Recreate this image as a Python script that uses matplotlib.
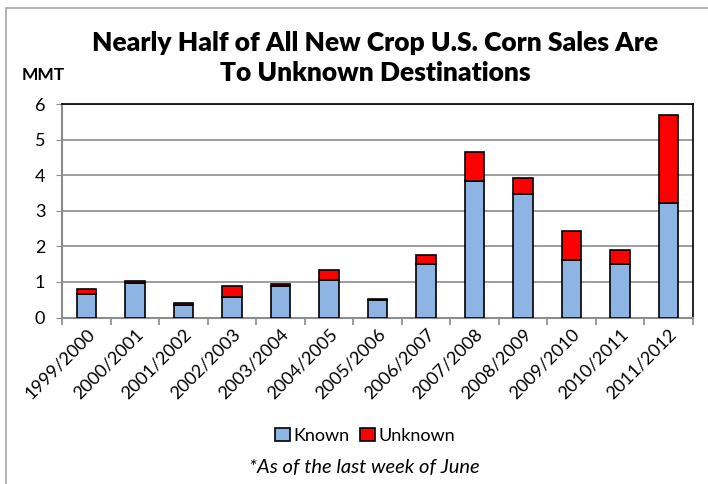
import matplotlib.pyplot as plt
import numpy as np
from matplotlib.patches import Rectangle

plt.rcParams['font.family'] = ['Lato', 'DejaVu Sans']

years = ['1999/2000', '2000/2001', '2001/2002', '2002/2003', '2003/2004',
         '2004/2005', '2005/2006', '2006/2007', '2007/2008', '2008/2009',
         '2009/2010', '2010/2011', '2011/2012']
known = [0.65, 0.97, 0.35, 0.58, 0.88, 1.05, 0.49, 1.51, 3.85, 3.48, 1.63, 1.51, 3.22]
unknown = [0.14, 0.05, 0.05, 0.31, 0.05, 0.28, 0.04, 0.26, 0.79, 0.45, 0.79, 0.39, 2.48]

fig = plt.figure(figsize=(7.08, 4.84), dpi=100)
ax = fig.add_axes([0.0876, 0.344, 0.891, 0.441])

x = np.arange(len(years))
ax.bar(x, known, width=0.4, color='#8EB4E3', edgecolor='black', linewidth=1.2,
       label='Known', zorder=3)
ax.bar(x, unknown, width=0.4, bottom=known, color='#FF0000', edgecolor='black',
       linewidth=1.2, label='Unknown', zorder=3)

ax.set_xlim(-0.5, len(years) - 0.5)
ax.set_ylim(0, 6)
ax.set_yticks(range(7))
ax.yaxis.grid(True, color='#8c8c8c', linewidth=1.2, zorder=0)
ax.tick_params(axis='y', labelsize=13, length=4, color='#8c8c8c', pad=8)

ax.set_xticks(x)
ax.set_xticklabels(years, rotation=45, ha='right', rotation_mode='anchor', fontsize=13)
ax.tick_params(axis='x', length=0, pad=6)
ax.set_xticks(np.arange(-0.5, len(years)), minor=True)
ax.tick_params(axis='x', which='minor', length=5, color='#8c8c8c', width=1.2)

for s in ['left', 'bottom']:
    ax.spines[s].set_color('#8c8c8c')
    ax.spines[s].set_linewidth(1.5)
for s in ['top', 'right']:
    ax.spines[s].set_color('black')
    ax.spines[s].set_linewidth(1.2)

fig.text(0.53, 0.88, 'Nearly Half of All New Crop U.S. Corn Sales Are\nTo Unknown Destinations',
         ha='center', va='center', fontsize=19, fontweight='heavy', linespacing=1.28)
fig.text(0.031, 0.845, 'MMT', fontsize=12.5, fontweight='bold', va='center')

fig.legend(loc='center', bbox_to_anchor=(0.516, 0.1), ncol=2, frameon=False,
           fontsize=13, handlelength=0.8, handleheight=0.8, handletextpad=0.2,
           columnspacing=0.6)
fig.text(0.515, 0.035, '*As of the last week of June', ha='center', va='center',
         fontsize=14.5, style='italic')

fig.patches.append(Rectangle((6 / 708, -0.1), 1.2, 1 - 8 / 484 + 0.1,
                             transform=fig.transFigure, fill=False,
                             edgecolor='#a6a6a6', linewidth=1.2))

fig.savefig('out.png', dpi=100)
